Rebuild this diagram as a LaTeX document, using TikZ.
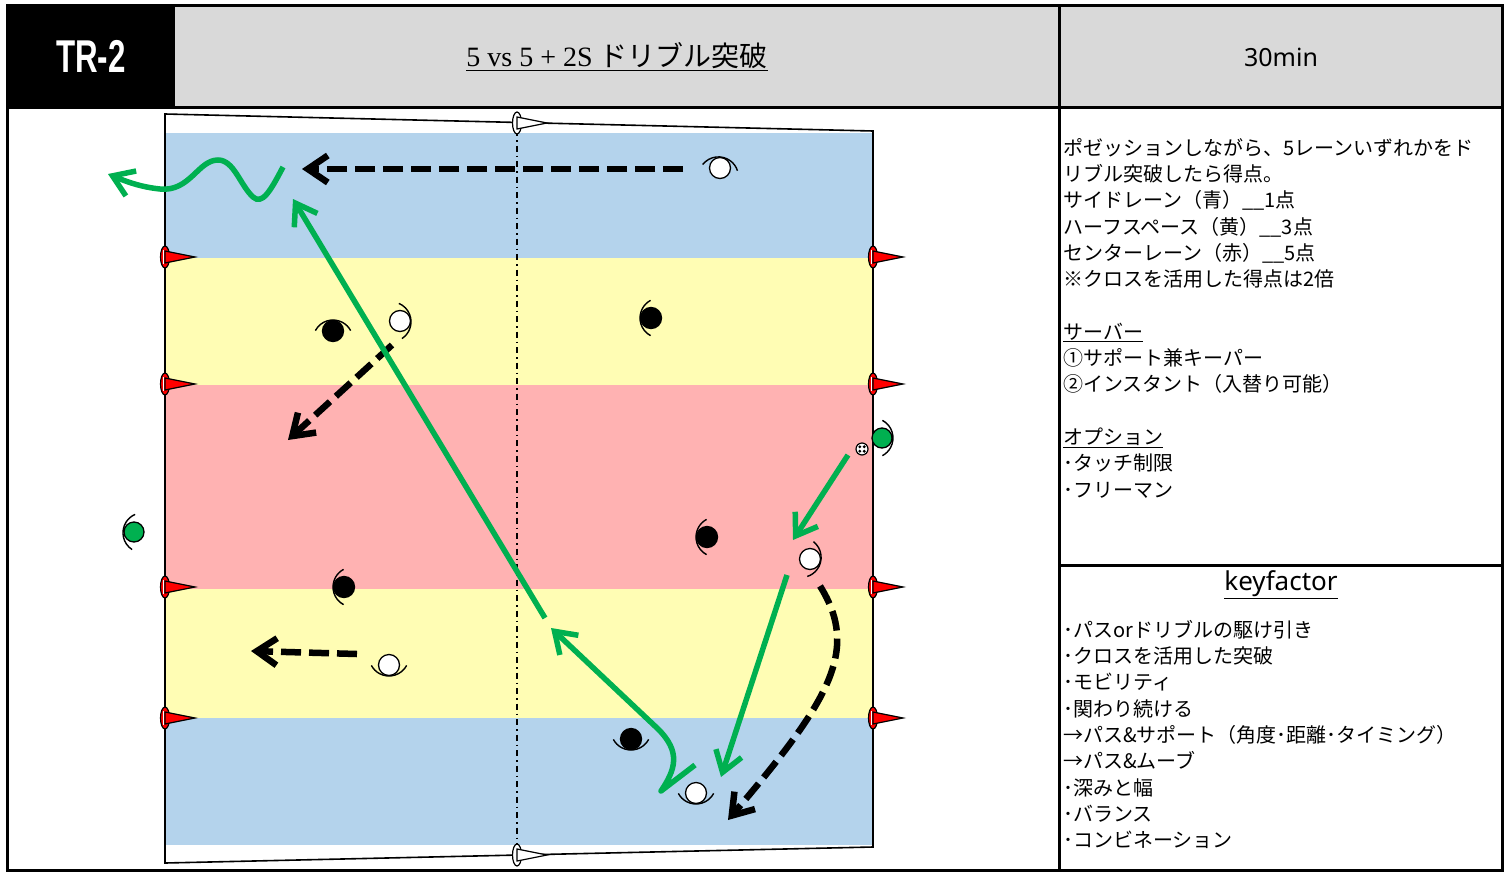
\documentclass[tikz,border=0pt]{standalone}
\usepackage{fontspec}
\setmainfont{Liberation Serif}
\newfontfamily\jpfont{Noto Sans CJK JP}
\newfontfamily\lafont{Noto Sans}
\newfontfamily\hdfont{Liberation Sans}
\usetikzlibrary{arrows.meta}

\definecolor{laneblue}{RGB}{180,211,236}
\definecolor{laneyellow}{RGB}{255,253,180}
\definecolor{lanered}{RGB}{255,178,178}
\definecolor{headgray}{RGB}{217,217,217}
\definecolor{kgreen}{RGB}{0,176,80}

% eyebrow showing where a player looks
\newcommand{\vision}[2]{\draw[vision] (#1.center) ++(#2+180:9) ++(#2-62:20) arc[start angle=#2-62, end angle=#2+62, radius=20];}
% marker cone lying on its side
\newcommand{\sidecone}[2]{%
  \filldraw[fill=#2, line width=1.2bp] (#1) ellipse[x radius=4.5, y radius=11];
  \filldraw[fill=#2, line width=1.2bp] (#1) ++(0,-6) -- ++(30,6) -- ++(-30,6) -- cycle;
  \draw[white, line width=1.2bp] (#1) ++(-1.5,-7) -- ++(0,14);}

\begin{document}
\begin{tikzpicture}[x=1bp,y=-1bp,
  every node/.style={inner sep=0pt},
  player/.style={circle, draw, line width=1.3bp, minimum size=21bp},
  attacker/.style={player, fill=white},
  defender/.style={player, fill=black},
  server/.style={player, fill=kgreen, minimum size=20bp},
  vision/.style={line width=1.4bp},
  run/.style={line width=6.5bp, dash pattern=on 20bp off 8bp, -{Straight Barb[length=20bp,width=27bp]}},
  pass/.style={draw=kgreen, line width=5.5bp, -{Straight Barb[length=20bp,width=27bp]}},
  paneltext/.style={font=\jpfont\fontsize{20bp}{26.3bp}\selectfont, align=left, anchor=north west},
]
\useasboundingbox (0,0) rectangle (1511,872);

% header
\fill[black] (7,5) rectangle (175,107);
\fill[headgray] (175,5) rectangle (1502,107);
\node[text=white, font=\hdfont\bfseries\fontsize{46bp}{50bp}\selectfont] (tag) at (91,56) {\scalebox{0.68}[1]{TR-2}};
\node[font=\fontsize{28bp}{32bp}\selectfont] (title) at (617,57) {\underline{5 vs 5 + 2S {\jpfont ドリブル突破}}};
\node[font=\lafont\fontsize{25bp}{30bp}\selectfont] (time) at (1281,57) {30min};

% lanes
\fill[laneblue] (165,133) rectangle (873,258);
\fill[laneyellow] (165,258) rectangle (873,385);
\fill[lanered] (165,385) rectangle (873,589);
\fill[laneyellow] (165,589) rectangle (873,718);
\fill[laneblue] (165,718) rectangle (873,845);
\draw[line width=1.6bp] (165,114) -- (873,131) -- (873,847) -- (165,863) -- cycle;
\draw[line width=1.5bp, dash pattern=on 6bp off 4bp on 1.5bp off 4bp] (517,130) -- (517,850);

% cones
\foreach \y in {257,384,587,718} {
  \sidecone{165,\y}{red}
  \sidecone{873,\y}{red}
}
\sidecone{517,123}{white}
\sidecone{517,855}{white}

% players
\node[attacker] (w1) at (720,168) {};
\node[attacker] (w2) at (400,321) {};
\node[attacker] (w3) at (810,559) {};
\node[attacker] (w4) at (389,665) {};
\node[attacker] (w5) at (696,793) {};
\node[defender] (b1) at (333,331) {};
\node[defender] (b2) at (651,318) {};
\node[defender] (b3) at (707,537) {};
\node[defender] (b4) at (344,587) {};
\node[defender] (b5) at (631,739) {};
\node[server] (s1) at (882,438) {};
\node[server] (s2) at (134,532) {};
\foreach \p/\a in {w1/-80, w2/-5, w3/10, w4/90, w5/90, b1/-90, b2/180, b3/180, b4/180, b5/90, s1/0, s2/185}
  {\vision{\p}{\a}}

% ball
\node[circle, draw, fill=white, line width=1.2bp, minimum size=12bp] (ball) at (862,449) {};
\foreach \dx/\dy in {-2.2/-2.2, 2.2/-2.2, -2.2/2.2, 2.2/2.2}
  \fill (ball.center) ++(\dx,\dy) circle[radius=1.6];

% runs without ball
\coordinate (r1s) at (683,169); \coordinate (r1e) at (302,169);
\coordinate (r2s) at (392,345); \coordinate (r2e) at (288,440);
\coordinate (r3s) at (357,654); \coordinate (r3e) at (251,651);
\coordinate (r4s) at (820,586); \coordinate (r4e) at (728,820);
\draw[run] (r1s) -- (r1e);
\draw[run] (r2s) -- (r2e);
\draw[run] (r3s) -- (r3e);
\draw[run] (r4s) .. controls (860,650) and (830,700) .. (r4e);

% passes and dribbles
\coordinate (p1s) at (848,455); \coordinate (p1e) at (793,540);
\coordinate (p2s) at (787,575); \coordinate (p2e) at (721,777);
\coordinate (p3s) at (545,618); \coordinate (p3e) at (293,199);
\coordinate (h1s) at (695,765); \coordinate (h1e) at (551,628);
\coordinate (d1s) at (283,167); \coordinate (d1e) at (108,174);
\draw[pass] (p1s) -- (p1e);
\draw[pass] (p2s) -- (p2e);
\draw[pass] (p3s) -- (p3e);
\draw[pass, line join=round] (h1s) -- (661,791) .. controls (675,770) and (682,752) .. (657,728) -- (h1e);
\draw[pass] (d1s) .. controls (270,192) and (262,205) .. (253,197)
  .. controls (240,185) and (234,160) .. (218,160)
  .. controls (198,160) and (190,192) .. (160,189)
  .. controls (140,187) and (125,181) .. (d1e);

% text panel
\node[paneltext] (rules) at (1063,138) {ポゼッションしながら、5レーンいずれかをド\\
リブル突破したら得点。\\
サイドレーン（青）\_\_1点\\
ハーフスペース（黄）\_\_3点\\
センターレーン（赤）\_\_5点\\
※クロスを活用した得点は2倍\\[26.3bp]
\underline{サーバー}\\
①サポート兼キーパー\\
②インスタント（入替り可能）\\[26.3bp]
\underline{オプション}\\
･タッチ制限\\
･フリーマン};
\node[font=\lafont\fontsize{26bp}{30bp}\selectfont] (kftitle) at (1281,585) {\underline{keyfactor}};
\node[paneltext] (keys) at (1063,620) {･パスorドリブルの駆け引き\\
･クロスを活用した突破\\
･モビリティ\\
･関わり続ける\\
→パス\&サポート（角度･距離･タイミング）\\
→パス\&ムーブ\\
･深みと幅\\
･バランス\\
･コンビネーション};

% frame
\draw[line width=3bp] (7,5) rectangle (1502,870);
\draw[line width=3bp] (7,107) -- (1502,107);
\draw[line width=3bp] (1059,5) -- (1059,870);
\draw[line width=3bp] (1059,565) -- (1502,565);
\end{tikzpicture}
\end{document}
